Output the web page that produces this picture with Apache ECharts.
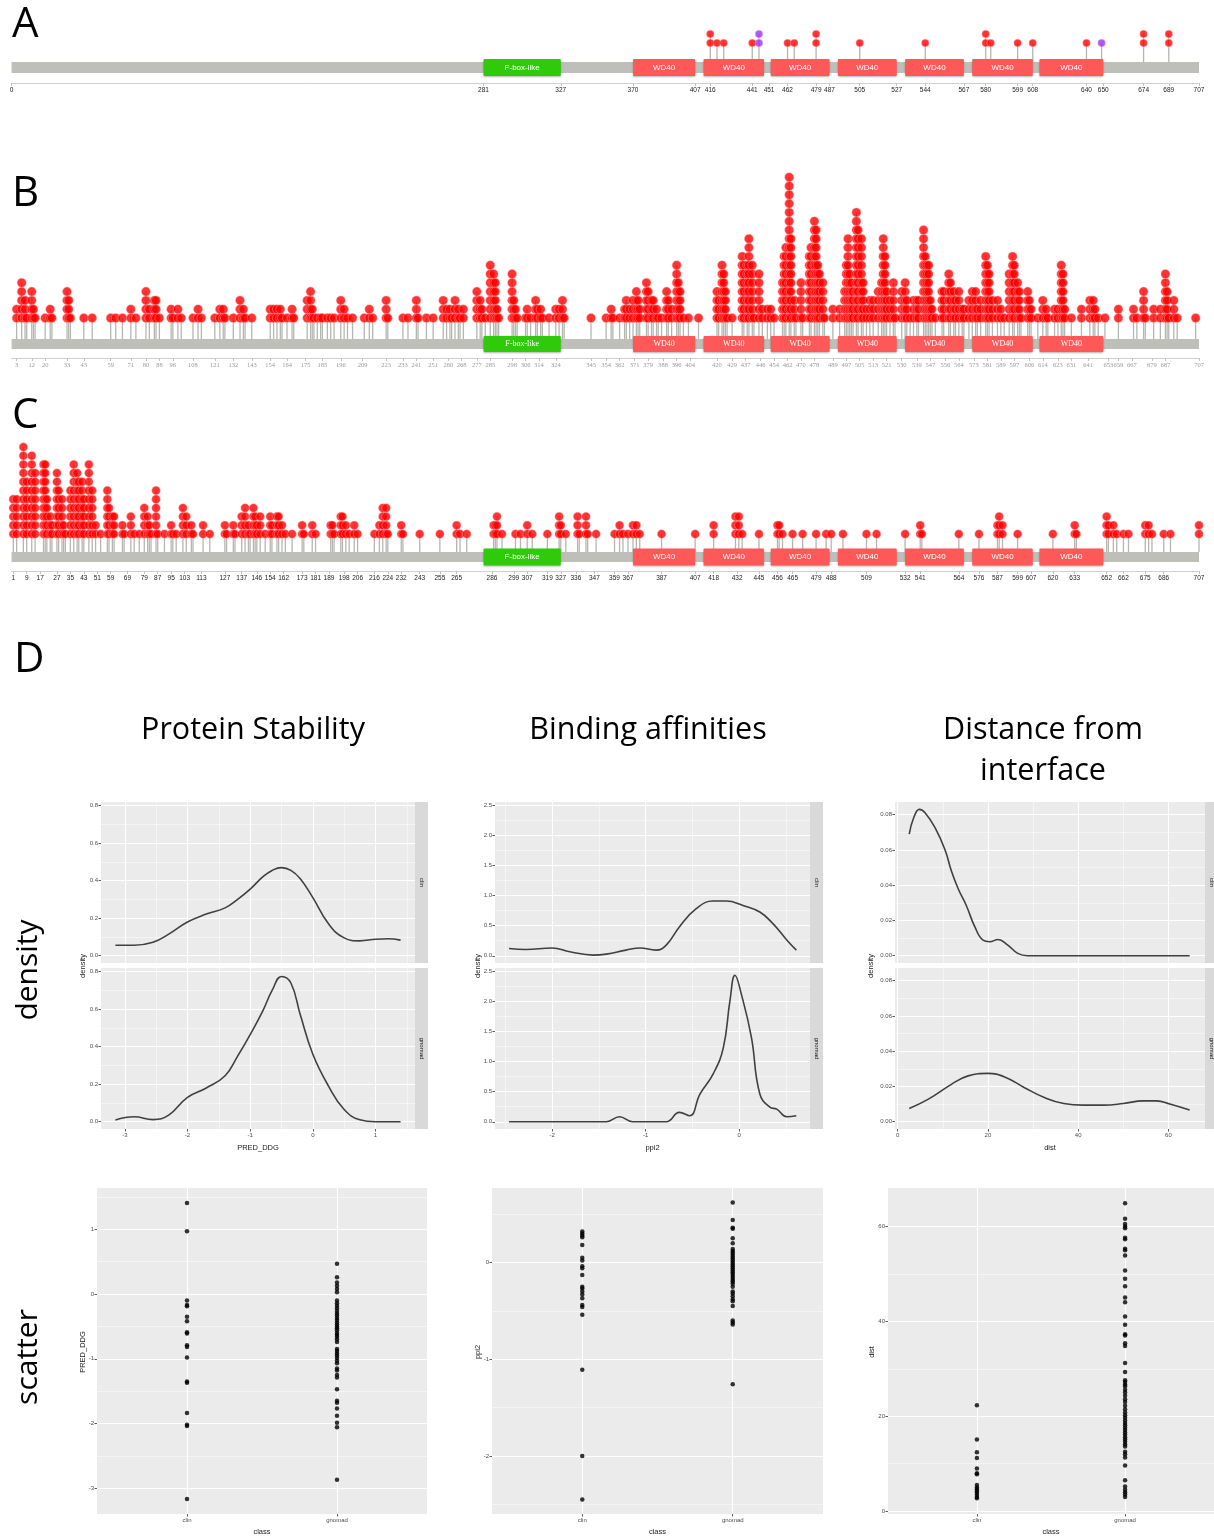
<!DOCTYPE html>
<html><head><meta charset="utf-8">
<script src="https://cdn.jsdelivr.net/npm/echarts@6/dist/echarts.min.js"></script>
<style>html,body{margin:0;padding:0;background:#fff}#c{width:1214px;height:1537px}</style>
</head><body><div id="c"></div>
<script>
// ---------------- DATA ----------------
const PROTEIN_LENGTH = 707;
const domainNames = ['F-box-like','WD40','WD40','WD40','WD40','WD40','WD40','WD40'];
const domainStart = [281,370,412,452,492,532,572,612];
const domainEnd   = [327,407,448,487,527,567,608,650];

// Panel A
const aTicks  = [0,281,327,370,407,416,441,451,462,479,487,505,527,544,567,580,599,608,640,650,674,689,707];
const aPos    = [416,420,424,441,445,462,466,479,505,544,580,583,599,608,640,649,674,689];
const aCount  = [2,1,1,1,2,1,1,2,1,1,2,1,1,1,1,1,2,2];
const aPurple = [0,0,0,0,1,0,0,0,0,0,0,0,0,0,0,1,0,0];

// Panel B
const bTicks = [3,12,20,33,43,59,71,80,88,96,108,121,132,143,154,164,175,185,196,209,223,233,241,251,260,268,277,285,298,306,314,324,345,354,362,371,379,388,396,404,420,429,437,446,454,462,470,478,489,497,505,513,521,530,539,547,556,564,573,581,589,597,606,614,623,631,641,653,659,667,679,687,707];
const bPos = [3,6,8,9,12,13,14,20,23,24, 33,34,35,43,48,59,62,66,71,74, 80,82,85,86,88,95,96,99,101,108,
  111,113,121,124,126,127,132,136,138,139, 143,154,156,158,160,161,164,167,168,176, 178,179,180,182,184,185,188,190,192,196,
  198,200,203,210,213,215,223,224,233,236, 241,242,247,251,257,259,261,262,264,266, 267,269,277,279,280,282,285,287,288,289,
  290,298,299,300,301,306,307,309,312,313, 315,316,320,324,326,328,329,345,
  354,357,358,362,365,366,368,370,372,373, 374,378,379,381,382,384,385,387,390,391, 393,396,397,398,400,403,409,420,421,423,
  424,425,426,429,435,436,438,439,441,442, 445,447,450,452,454,459,460,461,463,464, 466,467,470,471,475,476,478,479,480,481,
  483,484,489,493,496,497,498,499,500,501, 503,504,506,507,509,511,513,516,518,519, 520,521,523,525,526,530,532,533,535,537,
  539,540,543,544,545,546,547,548,550,554, 555,558,559,561,562,564,566,567,570,572, 574,575,577,580,581,582,584,587,589,591,
  594,596,597,599,600,601,605,606,607,611, 614,616,617,621,623,625,626,627,631,637, 642,644,645,647,651,659,668,670,674,675,
  680,684,687,688,689,692,694,705];
const bCount = [2,5,3,1,4,2,1,1,2,1, 4,3,1,1,1,1,1,1,2,1, 4,2,3,3,1,2,1,2,1,1,
  2,1,1,2,2,1,1,3,2,1, 1,2,2,2,2,1,1,2,1,3, 4,2,1,1,1,1,1,1,1,3,
  2,1,1,1,2,1,3,1,1,1, 3,1,1,1,3,2,2,1,3,2, 1,2,4,3,2,1,7,6,5,2,
  1,6,3,2,1,1,2,1,3,2, 2,1,1,2,2,3,1,1,
  1,2,1,1,2,3,2,3,4,3, 2,5,4,3,3,2,1,1,4,3, 2,7,5,4,1,1,1,4,3,7,
  6,4,1,1,8,7,7,10,7,1, 6,2,2,2,1,5,8,9,17,10, 3,1,5,1,8,9,12,11,7,6,
  5,1,2,2,4,7,10,6,5,4, 13,11,10,5,2,3,3,4,5,10, 8,4,3,5,1,4,5,3,1,3,
  3,3,11,8,7,7,3,2,1,4, 4,6,5,4,3,4,2,2,3,4, 4,2,3,8,7,6,3,3,2,1,
  6,8,7,5,4,1,4,3,2,1, 3,2,1,2,2,7,6,2,1,2, 3,3,2,1,1,2,2,1,4,1,
  2,2,6,4,1,3,1,1];

// Panel C
const cTicks = [1,9,17,27,35,43,51,59,69,79,87,95,103,113,127,137,146,154,162,173,181,189,198,206,216,224,232,243,255,265,286,299,307,319,327,336,347,359,367,387,407,418,432,445,456,465,479,488,509,532,541,564,576,587,599,607,620,633,652,662,675,686,707];
const cPos = [1,3,7,9,12,14,19,20,21,23, 24,27,28,30,31,32,35,37,39,40, 42,43,46,48,50,53,57,58,60,61,
  66,67,71,73,76,79,81,82,83,86, 87,91,95,96,98,102,104,107,108,114, 118,127,128,132,133,137,139,141,142,144,
  145,146,148,151,154,155,158,159,161,163, 167,173,174,179,181,190,191,192,196,197, 199,201,204,206,216,219,221,223,224,232,
  233,243,255,265,267,271,287,288,289,292, 300,303,307,310,319,326,327,330,337,338, 342,343,348,359,362,364,367,370,372,374,
  387,407,418,431,433,435,445,456,457,459, 465,471,479,485,488,495,509,515,532,541, 542,564,576,587,588,590,599,620,633,634,
  652,653,656,658,662,665,675,677,679,686, 690,707];
const cCount = [5,5,11,7,10,8,9,9,5,3, 2,8,6,5,2,1,6,9,8,7, 7,5,9,6,2,1,6,4,3,3,
  2,1,3,1,1,4,3,2,1,6, 1,1,2,1,1,4,3,2,1,2, 1,2,1,2,1,3,4,2,1,4,
  3,2,3,1,3,2,3,3,2,1, 1,2,1,2,1,2,2,1,3,3, 2,1,2,1,1,2,4,4,1,2,
  1,1,1,2,1,1,2,2,3,1, 1,1,2,1,1,3,2,1,3,1, 3,1,1,1,2,1,1,2,2,1,
  1,1,2,3,3,1,1,2,2,1, 1,1,1,1,1,1,1,1,1,2, 1,1,1,2,3,2,1,1,2,1,
  3,2,2,1,1,1,2,2,1,1, 1,2];

// Panel D : density curves
const stabX       = [-3.15,-2.85,-2.55,-2.3,-2,-1.7,-1.4,-1.2,-1,-0.8,-0.65,-0.5,-0.35,-0.2,0,0.25,0.5,0.75,1,1.2,1.4];
const stabClin    = [0.056,0.056,0.072,0.115,0.18,0.222,0.255,0.3,0.355,0.42,0.455,0.47,0.455,0.41,0.31,0.17,0.095,0.079,0.088,0.09,0.083];
const stabGnomad  = [0.009,0.026,0.011,0.035,0.13,0.18,0.245,0.35,0.465,0.59,0.7,0.775,0.74,0.57,0.36,0.19,0.065,0.01,0.0,0.0,0.0];

const ppiClinX    = [-2.46,-2.28,-2,-1.81,-1.56,-1.42,-1.21,-1.06,-0.89,-0.78,-0.64,-0.46,-0.28,-0.14,0.04,0.22,0.36,0.51,0.61];
const ppiClinY    = [0.12,0.104,0.13,0.066,0.011,0.027,0.093,0.13,0.093,0.176,0.478,0.78,0.907,0.907,0.835,0.725,0.533,0.258,0.093];
const ppiGnomadX  = [-2.46,-1.42,-1.28,-1.14,-0.78,-0.64,-0.53,-0.42,-0.28,-0.17,-0.1,-0.046,0.025,0.13,0.22,0.33,0.4,0.51,0.61];
const ppiGnomadY  = [0,0,0.083,0,0,0.155,0.1,0.46,0.79,1.23,2.0,2.43,2.1,1.4,0.46,0.24,0.21,0.083,0.1];

const distClinX   = [2.56,3.5,4.8,6.1,8.3,10.5,11.9,13.4,15.2,17.1,18.9,20.4,22.2,24.4,26.6,28.8,40,64.7];
const distClinY   = [0.069,0.078,0.083,0.081,0.0725,0.06,0.048,0.038,0.0285,0.0163,0.0088,0.0079,0.0092,0.006,0.0013,0,0,0];
const distGnomadX = [2.56,6.8,11.9,15.6,20,23.7,28.1,32.5,36.8,41.2,45.6,50,54.4,57.4,60.3,64.7];
const distGnomadY = [0.0075,0.0128,0.0212,0.026,0.0274,0.0254,0.0193,0.0137,0.0103,0.0094,0.0094,0.0103,0.0118,0.0118,0.01,0.0066];

// Panel D : scatter values
const classNames = ['clin','gnomad'];
const stabClinPts   = [1.41,0.97,-0.1,-0.17,-0.19,-0.35,-0.42,-0.59,-0.61,-0.79,-0.82,-0.98,-1.35,-1.37,-1.84,-2.02,-2.04,-3.17];
const stabGnomadPts = [0.47,0.26,0.18,0.13,0.08,0.03,-0.1,-0.14,-0.18,-0.22,-0.26,-0.3,-0.33,-0.37,-0.4,-0.44,-0.47,-0.5,-0.53,-0.56,-0.6,-0.63,-0.66,-0.7,-0.74,-0.85,-0.88,-0.92,-0.95,-0.99,-1.03,-1.07,-1.15,-1.18,-1.25,-1.29,-1.47,-1.65,-1.68,-1.77,-1.88,-1.99,-2.06,-2.87];
const ppiClinPts    = [0.32,0.3,0.28,0.26,0.18,0.05,0.02,-0.04,-0.06,-0.13,-0.25,-0.27,-0.3,-0.33,-0.37,-0.44,-0.46,-0.54,-1.11,-2.0,-2.45];
const ppiGnomadPts  = [0.62,0.44,0.36,0.35,0.25,0.2,0.14,0.12,0.1,0.08,0.06,0.04,0.02,0.0,-0.02,-0.04,-0.06,-0.08,-0.1,-0.12,-0.14,-0.16,-0.18,-0.2,-0.22,-0.25,-0.3,-0.32,-0.35,-0.38,-0.4,-0.45,-0.6,-0.62,-0.64,-1.26];
const distClinPts   = [22.3,15.1,12.4,11.2,9.0,8.0,7.8,5.5,5.0,4.6,4.2,3.8,3.4,3.0,2.7];
const distGnomadPts = [64.9,61.6,60.5,60.0,59.6,57.6,57.3,55.3,55.0,53.9,50.7,49.0,47.4,45.0,44.0,41.0,39.3,37.3,37.0,35.4,34.8,31.2,29.3,27.6,27.2,26.7,26.3,25.6,25.0,24.3,23.6,23.0,22.2,21.5,20.8,20.2,19.7,19.1,18.6,18.1,17.6,17.1,16.6,16.1,15.6,15.1,14.6,14.1,13.6,12.5,12.0,11.3,9.6,6.5,5.2,4.5,4.0,3.5,3.0];

// ---------------- BUILD ----------------
const grids = [], xAxes = [], yAxes = [], series = [], graphics = [];
function addGrid(g){ grids.push(g); return grids.length - 1; }
const X0 = 11.6, XW = PROTEIN_LENGTH * 1.6795;
const BAR_COLOR = '#BDBFB8', STEM_COLOR = '#B4B7B0';

function lolli(cfg){
  const gi = addGrid({left:X0, top:cfg.top, width:XW, height:cfg.axisY - cfg.top});
  const yMin = -(cfg.axisY - cfg.barY) / cfg.step;
  const yMax = yMin + (cfg.axisY - cfg.top) / cfg.step;
  const d1 = (cfg.barY - cfg.level1Y) / cfg.step;
  const xi = xAxes.length;
  xAxes.push({gridIndex:gi, type:'value', min:0, max:PROTEIN_LENGTH, position:'bottom',
    axisLine:{show:true, onZero:false, lineStyle:{color:'#D0D0D0', width:1}},
    axisTick:{show:true, customValues:cfg.ticks, length:3, lineStyle:{color:'#C0C0C0'}},
    axisLabel:{show:true, customValues:cfg.ticks, fontSize:6.5, color:cfg.labelColor, fontFamily:cfg.labelFont, margin:4},
    splitLine:{show:false}});
  const yi = yAxes.length;
  yAxes.push({gridIndex:gi, type:'value', min:yMin, max:yMax, show:false});
  // backbone
  series.push({type:'custom', xAxisIndex:xi, yAxisIndex:yi, z:1, silent:true, clip:false,
    data:[[0, PROTEIN_LENGTH]],
    renderItem:(p, api)=>{
      const a = api.coord([api.value(0), 0]), b = api.coord([api.value(1), 0]);
      return {type:'rect', shape:{x:a[0], y:a[1]-cfg.barH/2, width:b[0]-a[0], height:cfg.barH}, style:{fill:BAR_COLOR}};
    }});
  // stems
  series.push({type:'custom', xAxisIndex:xi, yAxisIndex:yi, z:2, silent:true, clip:false,
    data:cfg.pos.map((p,i)=>[p, d1 + cfg.count[i] - 1]),
    renderItem:(p, api)=>{
      const top = api.coord([api.value(0), api.value(1)]);
      const base = api.coord([api.value(0), 0]);
      return {type:'line', shape:{x1:top[0], y1:top[1], x2:base[0], y2:base[1]-cfg.barH/2}, style:{stroke:STEM_COLOR, lineWidth:1.3}};
    }});
  // domains
  series.push({type:'custom', xAxisIndex:xi, yAxisIndex:yi, z:3, silent:true, clip:false,
    data:domainStart.map((s,i)=>[s, domainEnd[i], i]),
    renderItem:(p, api)=>{
      const s = api.coord([api.value(0), 0]), e = api.coord([api.value(1), 0]);
      const name = domainNames[api.value(2)];
      const fill = name === 'WD40' ? '#FF5858' : '#2FCB0B';
      return {type:'group', children:[
        {type:'rect', shape:{x:s[0], y:s[1]-cfg.domH/2, width:e[0]-s[0], height:cfg.domH, r:1},
         style:{fill:fill, shadowBlur:2, shadowColor:'rgba(0,0,0,0.3)', shadowOffsetY:1}},
        {type:'text', x:(s[0]+e[0])/2, y:s[1], style:{text:name, fill:'#FFFFFF', fontSize:cfg.domFontSize, fontFamily:cfg.domFont, align:'center', verticalAlign:'middle'}}
      ]};
    }});
  // dots
  const dots = [];
  cfg.pos.forEach((p,i)=>{ for(let k=1;k<=cfg.count[i];k++) dots.push([p, d1 + k - 1, cfg.purple ? cfg.purple[i] : 0]); });
  series.push({type:'scatter', xAxisIndex:xi, yAxisIndex:yi, z:4, silent:true, clip:false,
    symbolSize:cfg.dotSize, data:dots,
    itemStyle:{color:(pr)=> pr.value[2] ? '#9B30FF' : '#FF0000', borderColor:'rgba(255,170,170,0.9)', borderWidth:0.6}});
}

lolli({top:15, axisY:83, barY:67.5, level1Y:43, step:9, barH:11, domH:17, dotSize:7.5, ticks:aTicks,
  pos:aPos, count:aCount, purple:aPurple, labelColor:'#222', labelFont:'Liberation Sans', domFont:'Liberation Sans', domFontSize:8});
lolli({top:160, axisY:358, barY:344, level1Y:318, step:8.8, barH:10, domH:16, dotSize:9, ticks:bTicks,
  pos:bPos, count:bCount, labelColor:'#9A9A9A', labelFont:'Liberation Serif', domFont:'Liberation Serif', domFontSize:8});
lolli({top:435, axisY:571, barY:557, level1Y:534, step:8.7, barH:10, domH:17, dotSize:8.5, ticks:cTicks,
  pos:cPos, count:cCount, labelColor:'#222', labelFont:'Liberation Sans', domFont:'Liberation Sans', domFontSize:8});

// ggplot-like panels
function ggPanel(o){
  const gi = addGrid({left:o.left, top:o.top, width:o.width, height:o.height, show:true, backgroundColor:'#EBEBEB', borderWidth:0});
  const xi = xAxes.length;
  xAxes.push({gridIndex:gi, type:'value', min:o.xMin, max:o.xMax, position:'bottom',
    axisLine:{show:false, onZero:false},
    axisTick:{show:o.showX, customValues:o.xMajor, length:2.5, lineStyle:{color:'#333333', width:0.8}},
    axisLabel:{show:o.showX, customValues:o.xMajor, fontSize:6, color:'#4D4D4D', margin:3, formatter:o.xFmt, fontFamily:'Liberation Sans'},
    splitLine:{show:true, lineStyle:{color:'#FFFFFF', width:1.1}},
    name:o.xName || '', nameLocation:'middle', nameGap:o.xNameGap || 14,
    nameTextStyle:{fontSize:7.5, color:'#1A1A1A', fontFamily:'Liberation Sans'}});
  if (o.xMinor && o.xMinor.length){
    xAxes.push({gridIndex:gi, type:'value', min:o.xMin, max:o.xMax, position:'top',
      axisLine:{show:false, onZero:false}, axisTick:{show:false, customValues:o.xMinor}, axisLabel:{show:false},
      splitLine:{show:true, lineStyle:{color:'#FFFFFF', width:0.5}}});
  }
  const yi = yAxes.length;
  yAxes.push({gridIndex:gi, type:'value', min:o.yMin, max:o.yMax, position:'left',
    axisLine:{show:false, onZero:false},
    axisTick:{show:true, customValues:o.yMajor, length:2.5, lineStyle:{color:'#333333', width:0.8}},
    axisLabel:{show:true, customValues:o.yMajor, fontSize:6, color:'#4D4D4D', margin:3, formatter:o.yFmt, fontFamily:'Liberation Sans'},
    splitLine:{show:true, lineStyle:{color:'#FFFFFF', width:1.1}}});
  if (o.yMinor && o.yMinor.length){
    yAxes.push({gridIndex:gi, type:'value', min:o.yMin, max:o.yMax, position:'right',
      axisLine:{show:false, onZero:false}, axisTick:{show:false, customValues:o.yMinor}, axisLabel:{show:false},
      splitLine:{show:true, lineStyle:{color:'#FFFFFF', width:0.5}}});
  }
  return {xi, yi};
}
function zip(a,b){ return a.map((v,i)=>[v,b[i]]); }
function densLine(ax, xs, ys){
  series.push({type:'line', xAxisIndex:ax.xi, yAxisIndex:ax.yi, data:zip(xs,ys), smooth:0.45,
    showSymbol:false, symbol:'none', silent:true, lineStyle:{color:'#404040', width:1.6}, z:5});
}
function f1(v){ return v.toFixed(1); }
function f2(v){ return v.toFixed(2); }
function fi(v){ return String(Math.round(v)); }

const dens = [
  {left:101, width:314, xMin:-3.38, xMax:1.63, xMajor:[-3,-2,-1,0,1], xMinor:[-2.5,-1.5,-0.5,0.5,1.5],
   yMin:-0.039, yMax:0.82, yMajor:[0,0.2,0.4,0.6,0.8], yMinor:[0.1,0.3,0.5,0.7], yFmt:f1, xName:'PRED_DDG',
   top:[stabX, stabClin], bot:[stabX, stabGnomad], yTitleX:83},
  {left:495, width:315, xMin:-2.61, xMax:0.756, xMajor:[-2,-1,0], xMinor:[-2.5,-1.5,-0.5,0.5],
   yMin:-0.12, yMax:2.55, yMajor:[0,0.5,1,1.5,2,2.5], yMinor:[0.25,0.75,1.25,1.75,2.25], yFmt:f1, xName:'ppi2',
   top:[ppiClinX, ppiClinY], bot:[ppiGnomadX, ppiGnomadY], yTitleX:478},
  {left:895, width:310, xMin:-0.6, xMax:68.1, xMajor:[0,20,40,60], xMinor:[10,30,50],
   yMin:-0.00415, yMax:0.0872, yMajor:[0,0.02,0.04,0.06,0.08], yMinor:[0.01,0.03,0.05,0.07], yFmt:f2, xName:'dist',
   top:[distClinX, distClinY], bot:[distGnomadX, distGnomadY], yTitleX:871}
];
const DT_TOP = 802, DT_H = 161, DB_TOP = 968, DB_H = 161;
dens.forEach(d=>{
  const common = {left:d.left, width:d.width, xMin:d.xMin, xMax:d.xMax, xMajor:d.xMajor, xMinor:d.xMinor,
    yMin:d.yMin, yMax:d.yMax, yMajor:d.yMajor, yMinor:d.yMinor, yFmt:d.yFmt, xFmt:fi};
  const t = ggPanel(Object.assign({}, common, {top:DT_TOP, height:DT_H, showX:false}));
  const b = ggPanel(Object.assign({}, common, {top:DB_TOP, height:DB_H, showX:true, xName:d.xName, xNameGap:15}));
  densLine(t, d.top[0], d.top[1]);
  densLine(b, d.bot[0], d.bot[1]);
  const sx = d.left + d.width;
  [[DT_TOP, DT_H, 'clin'], [DB_TOP, DB_H, 'gnomad']].forEach(s=>{
    graphics.push({type:'rect', shape:{x:sx, y:s[0], width:13, height:s[1]}, style:{fill:'#D9D9D9'}});
    graphics.push({type:'text', x:sx+6.5, y:s[0]+s[1]/2, rotation:-Math.PI/2,
      style:{text:s[2], fontSize:6, fill:'#1A1A1A', fontFamily:'Liberation Sans', align:'center', verticalAlign:'middle'}});
  });
  graphics.push({type:'text', x:d.yTitleX, y:966, rotation:Math.PI/2,
    style:{text:'density', fontSize:7.5, fill:'#1A1A1A', fontFamily:'Liberation Sans', align:'center', verticalAlign:'middle'}});
});

// scatter panels
const scat = [
  {left:97, width:330, yMin:-3.4, yMax:1.64, yMajor:[-3,-2,-1,0,1], yMinor:[-2.5,-1.5,-0.5,0.5,1.5], yName:'PRED_DDG', yTitleX:83,
   clin:stabClinPts, gnomad:stabGnomadPts},
  {left:492, width:331, yMin:-2.6, yMax:0.77, yMajor:[-2,-1,0], yMinor:[-2.5,-1.5,-0.5,0.5], yName:'ppi2', yTitleX:478,
   clin:ppiClinPts, gnomad:ppiGnomadPts},
  {left:888, width:330, yMin:-0.6, yMax:68.1, yMajor:[0,20,40,60], yMinor:[10,30,50], yName:'dist', yTitleX:872,
   clin:distClinPts, gnomad:distGnomadPts}
];
scat.forEach(s=>{
  const ax = ggPanel({left:s.left, width:s.width, top:1188, height:329, xMin:0.4, xMax:2.6, xMajor:[1,2], xMinor:[],
    yMin:s.yMin, yMax:s.yMax, yMajor:s.yMajor, yMinor:s.yMinor, yFmt:fi, showX:true,
    xFmt:(v)=>classNames[Math.round(v)-1], xName:'class', xNameGap:14});
  const pts = s.clin.map(v=>[1, v]).concat(s.gnomad.map(v=>[2, v]));
  series.push({type:'scatter', xAxisIndex:ax.xi, yAxisIndex:ax.yi, data:pts, symbolSize:4.5, silent:true,
    itemStyle:{color:'#000000'}, z:5});
  graphics.push({type:'text', x:s.yTitleX, y:1352, rotation:Math.PI/2,
    style:{text:s.yName, fontSize:7.5, fill:'#1A1A1A', fontFamily:'Liberation Sans', align:'center', verticalAlign:'middle'}});
});

// letters and titles
const bigFont = 'Open Sans';
[['A',12,25],['B',12,194],['C',12,416],['D',14,660]].forEach(l=>{
  graphics.push({type:'text', x:l[1], y:l[2], style:{text:l[0], fontSize:42, fill:'#000', fontFamily:bigFont, align:'left', verticalAlign:'middle'}});
});
[['Protein Stability',253,730],['Binding affinities',648,730],['Distance from',1043,730],['interface',1043,771]].forEach(t=>{
  graphics.push({type:'text', x:t[1], y:t[2], style:{text:t[0], fontSize:30.5, fill:'#000', fontFamily:bigFont, align:'center', verticalAlign:'middle'}});
});
[['density',28,970],['scatter',28,1357]].forEach(t=>{
  graphics.push({type:'text', x:t[1], y:t[2], rotation:Math.PI/2,
    style:{text:t[0], fontSize:30, fill:'#000', fontFamily:bigFont, align:'center', verticalAlign:'middle'}});
});

const chart = echarts.init(document.getElementById('c'), null, {renderer:'canvas'});
chart.setOption({
  animation:false,
  backgroundColor:'#FFFFFF',
  textStyle:{fontFamily:'Liberation Sans'},
  grid:grids, xAxis:xAxes, yAxis:yAxes, series:series,
  graphic:{elements:graphics}
});
</script></body></html>
